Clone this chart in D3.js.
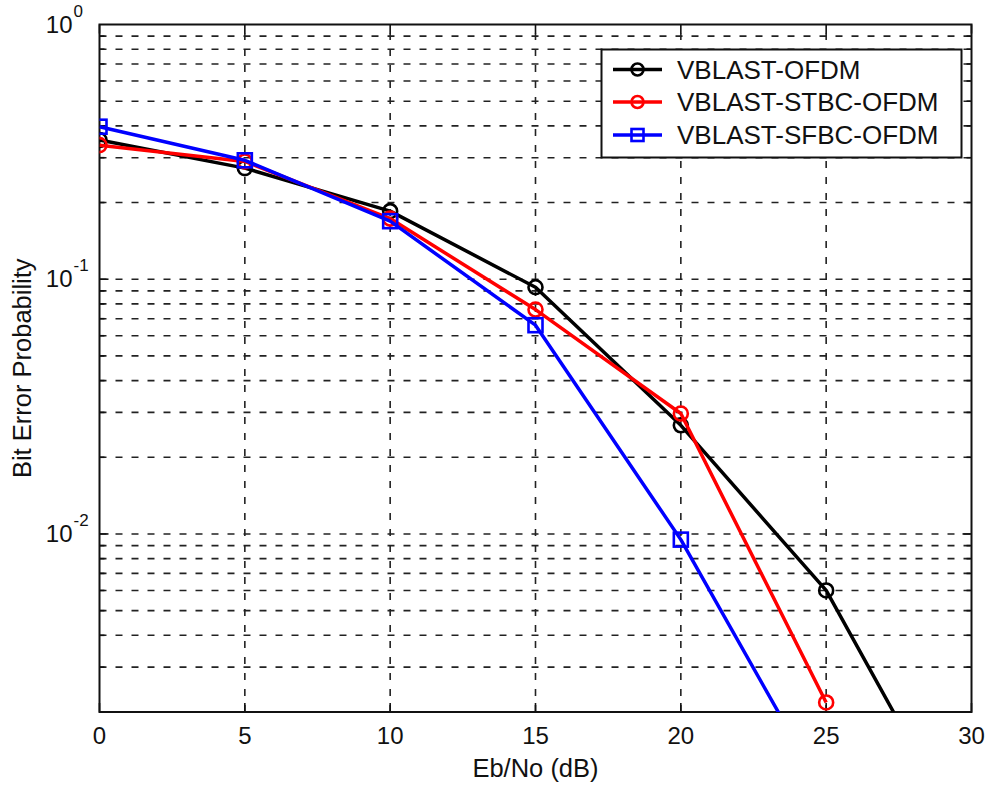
<!DOCTYPE html>
<html>
<head>
<meta charset="utf-8">
<script src="https://cdn.jsdelivr.net/npm/d3@7"></script>
<style>
  body { margin: 0; background: #fff; }
  svg text { font-family: "Liberation Sans", Arial, sans-serif; fill: #111; }
</style>
</head>
<body>
<svg width="989" height="789"></svg>
<script>
// values
var ebno = [0, 5, 10, 15, 20, 25, 30];
var berVblast = [0.352, 0.273, 0.185, 0.093, 0.0267, 0.0060, 0.00056];
var berStbc = [0.336, 0.290, 0.173, 0.076, 0.0297, 0.00218];
var berSfbc = [0.397, 0.293, 0.169, 0.066, 0.0095, 0.00093];

var seriesNames = ['VBLAST-OFDM', 'VBLAST-STBC-OFDM', 'VBLAST-SFBC-OFDM'];
var seriesColors = ['#000000', '#ff0000', '#0000ff'];
var seriesMarkers = ['circle', 'circle', 'square'];
var seriesValues = [berVblast, berStbc, berSfbc];

var xTicks = [0, 5, 10, 15, 20, 25, 30];
var yDecades = [1, 0.1, 0.01];
var yDomain = [0.002, 1];

var svg = d3.select('svg');
var pLeft = 99.5, pRight = 971.5, pTop = 24.5, pBottom = 712;

var x = d3.scaleLinear().domain([0, 30]).range([pLeft, pRight]);
var y = d3.scaleLog().domain(yDomain).range([pBottom, pTop]);

// minor grid values inside the domain
var minorY = [];
[0.001, 0.01, 0.1].forEach(d => {
    for (var k = 2; k <= 9; k++) {
        var v = d * k;
        if (v > yDomain[0] * 1.0001 && v < 1) minorY.push(v);
    }
});
var gridY = minorY.concat([0.1, 0.01]);

svg.append('clipPath').attr('id', 'plot')
    .append('rect')
    .attr('x', pLeft).attr('y', pTop)
    .attr('width', pRight - pLeft).attr('height', pBottom - pTop);

var grid = svg.append('g')
    .attr('stroke', '#222')
    .attr('stroke-width', 1.6)
    .attr('stroke-dasharray', '7,9');

grid.selectAll('.gy').data(gridY).enter()
    .append('line')
    .attr('x1', pLeft).attr('x2', pRight)
    .attr('y1', d => y(d)).attr('y2', d => y(d));

grid.selectAll('.gx').data(xTicks.slice(1, -1)).enter()
    .append('line')
    .attr('y1', pBottom).attr('y2', pTop)
    .attr('x1', d => x(d)).attr('x2', d => x(d));

// ticks
var ticks = svg.append('g').attr('stroke', '#111').attr('stroke-width', 1.6);
xTicks.forEach(d => {
    ticks.append('line').attr('x1', x(d)).attr('x2', x(d)).attr('y1', pBottom).attr('y2', pBottom - 9);
    ticks.append('line').attr('x1', x(d)).attr('x2', x(d)).attr('y1', pTop).attr('y2', pTop + 9);
});
gridY.forEach(d => {
    var len = yDecades.indexOf(d) >= 0 ? 9 : 5;
    ticks.append('line').attr('x1', pLeft).attr('x2', pLeft + len).attr('y1', y(d)).attr('y2', y(d));
    ticks.append('line').attr('x1', pRight).attr('x2', pRight - len).attr('y1', y(d)).attr('y2', y(d));
});

// axes box
svg.append('rect')
    .attr('x', pLeft).attr('y', pTop)
    .attr('width', pRight - pLeft).attr('height', pBottom - pTop)
    .attr('fill', 'none').attr('stroke', '#111').attr('stroke-width', 2);

// tick labels
svg.append('g').selectAll('text').data(xTicks).enter()
    .append('text')
    .attr('x', d => x(d)).attr('y', 744)
    .attr('text-anchor', 'middle')
    .attr('font-size', 24)
    .text(d => d);

var yl = svg.append('g').selectAll('g').data(yDecades).enter().append('g');
yl.append('text')
    .attr('x', 72.5).attr('y', d => y(d) + 8)
    .attr('text-anchor', 'end')
    .attr('font-size', 24)
    .text('10');
yl.append('text')
    .attr('x', 73.5).attr('y', d => y(d) - 8)
    .attr('font-size', 17)
    .text(d => Math.round(Math.log10(d)));

// axis labels
svg.append('text')
    .attr('x', (pLeft + pRight) / 2).attr('y', 777)
    .attr('text-anchor', 'middle')
    .attr('font-size', 25.5)
    .text('Eb/No (dB)');
svg.append('text')
    .attr('transform', 'translate(31,' + ((pTop + pBottom) / 2) + ') rotate(-90)')
    .attr('text-anchor', 'middle')
    .attr('font-size', 25.5)
    .text('Bit Error Probability');

// series
var line = d3.line()
    .defined(d => d[1] > 0)
    .x(d => x(d[0]))
    .y(d => y(d[1]));

function drawMarker(g, kind, cx, cy, size, color) {
    if (kind === 'circle') {
        g.append('circle').attr('cx', cx).attr('cy', cy).attr('r', size)
            .attr('fill', 'none').attr('stroke', color).attr('stroke-width', 2.6);
    } else {
        g.append('rect').attr('x', cx - size).attr('y', cy - size)
            .attr('width', size * 2).attr('height', size * 2)
            .attr('fill', 'none').attr('stroke', color).attr('stroke-width', 2.6);
    }
}

var plot = svg.append('g').attr('clip-path', 'url(#plot)');
seriesValues.forEach((vals, i) => {
    var pts = vals.map((v, j) => [ebno[j], v]);
    var g = plot.append('g');
    g.append('path')
        .attr('d', line(pts))
        .attr('fill', 'none')
        .attr('stroke', seriesColors[i])
        .attr('stroke-width', 3.5)
        .attr('stroke-linejoin', 'round');
    pts.forEach(p => {
        if (p[1] >= yDomain[0]) drawMarker(g, seriesMarkers[i], x(p[0]), y(p[1]), 7, seriesColors[i]);
    });
});

// legend
var lg = svg.append('g');
lg.append('rect')
    .attr('x', 601.5).attr('y', 49.5).attr('width', 360).attr('height', 108)
    .attr('fill', '#fff').attr('stroke', '#111').attr('stroke-width', 2);
var rowY = [69.5, 102, 135];
seriesNames.forEach((name, i) => {
    lg.append('line')
        .attr('x1', 613).attr('x2', 662)
        .attr('y1', rowY[i]).attr('y2', rowY[i])
        .attr('stroke', seriesColors[i]).attr('stroke-width', 3.5);
    drawMarker(lg, seriesMarkers[i], 637.5, rowY[i], 6, seriesColors[i]);
    lg.append('text')
        .attr('x', 677).attr('y', rowY[i] + 9)
        .attr('font-size', 26)
        .text(name);
});
</script>
</body>
</html>
